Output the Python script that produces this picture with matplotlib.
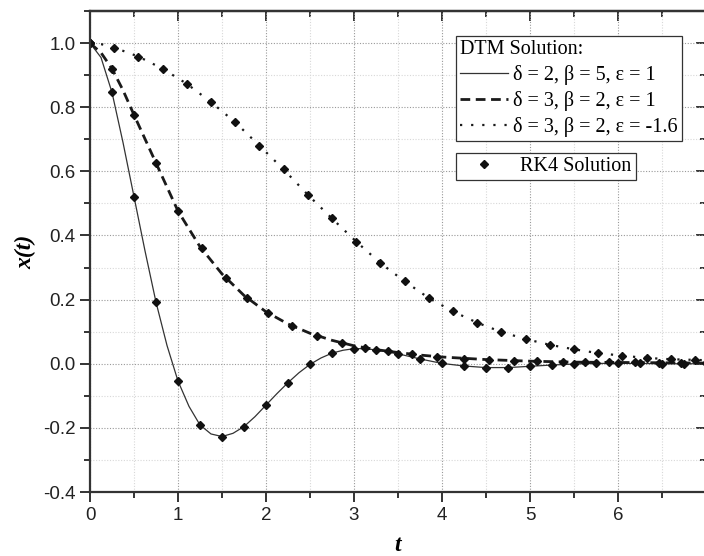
import numpy as np
import matplotlib
matplotlib.use('Agg')
import matplotlib.pyplot as plt
from matplotlib.ticker import MultipleLocator
from matplotlib.lines import Line2D

# DTM solution curves
t_dtm1 = [0, 0.125, 0.25, 0.375, 0.5, 0.625, 0.75, 0.875, 1.0, 1.125, 1.25, 1.375, 1.5, 1.625,
          1.75, 1.875, 2.0, 2.125, 2.25, 2.375, 2.5, 2.625, 2.75, 2.875, 3.0, 3.125, 3.25, 3.5,
          3.75, 4.0, 4.25, 4.5, 4.75, 5.0, 5.25, 5.5, 5.75, 6.0, 6.25, 6.5, 6.75, 7.0]
x_dtm1 = [1.0, 0.955, 0.846, 0.69, 0.521, 0.352, 0.192, 0.057, -0.054, -0.133, -0.191, -0.219, -0.227, -0.217,
          -0.196, -0.165, -0.129, -0.093, -0.059, -0.028, -0.002, 0.018, 0.033, 0.042, 0.047, 0.047, 0.043, 0.031,
          0.015, 0.001, -0.007, -0.012, -0.012, -0.008, -0.004, -0.001, 0.001, 0.001, 0.001, 0.0, 0.0, 0.0]

t_dtm2 = [0, 0.125, 0.25, 0.375, 0.5, 0.75, 1.0, 1.25, 1.5, 1.75, 2.0, 2.25, 2.5, 2.75, 3.0, 3.25,
          3.5, 3.75, 4.0, 4.5, 5.0, 5.5, 6.0, 6.5, 7.0]
x_dtm2 = [1.0, 0.97, 0.92, 0.853, 0.776, 0.626, 0.476, 0.365, 0.28, 0.213, 0.162, 0.124, 0.095, 0.073, 0.056, 0.044,
          0.035, 0.027, 0.021, 0.013, 0.008, 0.005, 0.004, 0.003, 0.002]

t_dtm3 = [0, 0.1375, 0.275, 0.55, 0.825, 1.1, 1.375, 1.65, 1.925, 2.2, 2.475, 2.75, 3.025, 3.3, 3.575,
          3.85, 4.125, 4.4, 4.675, 4.95, 5.225, 5.5, 5.775, 6.05, 6.325, 6.6, 6.875, 7.0]
x_dtm3 = [1.0, 0.996, 0.986, 0.958, 0.92, 0.873, 0.816, 0.753, 0.68, 0.606, 0.527, 0.453, 0.381, 0.314, 0.257,
          0.205, 0.163, 0.128, 0.099, 0.077, 0.059, 0.045, 0.033, 0.025, 0.018, 0.014, 0.012, 0.011]

# RK4 points
t_rk1 = [0, 0.25, 0.5, 0.75, 1.0, 1.25, 1.5, 1.75, 2.0, 2.25, 2.5, 2.75, 3.0, 3.25, 3.5, 3.75,
         4.0, 4.25, 4.5, 4.75, 5.0, 5.25, 5.5, 5.75, 6.0, 6.25, 6.5, 6.75]
x_rk1 = [1.0, 0.846, 0.521, 0.192, -0.054, -0.191, -0.227, -0.196, -0.129, -0.059, -0.002, 0.033, 0.047, 0.043,
         0.031, 0.015, 0.001, -0.007, -0.012, -0.012, -0.008, -0.004, -0.001, 0.001, 0.001, 0.001, 0.0, 0.0]

t_rk2 = [0, 0.25, 0.5, 0.75, 1.0, 1.27, 1.54, 1.78, 2.02, 2.3, 2.58, 2.86, 3.12, 3.39, 3.66, 3.94,
         4.25, 4.53, 4.82, 5.08, 5.37, 5.63, 5.9, 6.19, 6.47, 6.72, 7.0]
x_rk2 = [1.0, 0.92, 0.776, 0.626, 0.476, 0.36, 0.267, 0.206, 0.158, 0.118, 0.087, 0.066, 0.05, 0.04, 0.029, 0.02,
         0.016, 0.011, 0.009, 0.007, 0.005, 0.005, 0.004, 0.004, 0.003, 0.003, 0.002]

t_rk3 = [0, 0.275, 0.55, 0.825, 1.1, 1.375, 1.65, 1.925, 2.2, 2.475, 2.75, 3.025, 3.3, 3.575,
         3.85, 4.125, 4.4, 4.675, 4.95, 5.225, 5.5, 5.775, 6.05, 6.325, 6.6, 6.875]
x_rk3 = [1.0, 0.986, 0.958, 0.92, 0.873, 0.816, 0.753, 0.68, 0.606, 0.527, 0.453, 0.381, 0.314, 0.257,
         0.205, 0.163, 0.128, 0.099, 0.077, 0.059, 0.045, 0.033, 0.025, 0.018, 0.014, 0.012]

labels = ['δ = 2, β = 5, ε = 1', 'δ = 3, β = 2, ε = 1', 'δ = 3, β = 2, ε = -1.6']
xticks = [0, 1, 2, 3, 4, 5, 6]

fig = plt.figure(figsize=(7.04, 5.56), dpi=100)
ax = fig.add_axes([90/704, 1-492/556, 616/704, 481/556])

lc = '#1a1a1a'
l1, = ax.plot(t_dtm1, x_dtm1, color='#333333', lw=0.9, ls='-')
l2, = ax.plot(t_dtm2, x_dtm2, color=lc, lw=2.0, ls=(0, (3.5, 2)))
l3, = ax.plot(t_dtm3, x_dtm3, color=lc, lw=1.6, ls=(0, (1, 4)))

mk = dict(ls='none', marker='D', ms=4.5, color='#111111', mec='#111111')
ax.plot(t_rk1, x_rk1, **mk)
ax.plot(t_rk2, x_rk2, **mk)
ax.plot(t_rk3, x_rk3, **mk)

ax.set_xlim(0, 7)
ax.set_ylim(-0.4, 1.1)
ax.set_xticks(xticks)
ax.xaxis.set_minor_locator(MultipleLocator(0.5))
ax.yaxis.set_major_locator(MultipleLocator(0.2))
ax.yaxis.set_minor_locator(MultipleLocator(0.1))
ax.yaxis.set_major_formatter(matplotlib.ticker.FormatStrFormatter('%.1f'))

ax.grid(which='major', ls=(0, (1, 1.5)), color='#999999', lw=0.8)
ax.grid(which='minor', ls=(0, (1, 1.5)), color='#d8d8d8', lw=0.8)
ax.set_axisbelow(True)

for s in ax.spines.values():
    s.set_linewidth(1.6)
    s.set_color('#333333')

ax.tick_params(which='both', direction='out', bottom=True, left=True, top=False, right=False,
               width=1.4, color='#333333', labelsize=13.5, labelcolor='#222222')
ax.tick_params(which='major', length=7)
ax.tick_params(which='minor', length=4)
for lab in ax.get_xticklabels() + ax.get_yticklabels():
    lab.set_family('Liberation Sans')

# inward ticks on top / right
sec_x = ax.secondary_xaxis('top')
sec_x.xaxis.set_major_locator(MultipleLocator(1))
sec_x.xaxis.set_minor_locator(MultipleLocator(0.5))
sec_x.tick_params(which='both', direction='in', width=1.4, color='#333333', labeltop=False)
sec_x.tick_params(which='major', length=7)
sec_x.tick_params(which='minor', length=4)
sec_x.spines['top'].set_linewidth(1.6)
sec_y = ax.secondary_yaxis('right')
sec_y.yaxis.set_major_locator(MultipleLocator(0.2))
sec_y.yaxis.set_minor_locator(MultipleLocator(0.1))
sec_y.tick_params(which='both', direction='in', width=1.4, color='#333333', labelright=False)
sec_y.tick_params(which='major', length=7)
sec_y.tick_params(which='minor', length=4)

ax.set_xlabel('t', family='Liberation Serif', style='italic', weight='bold', fontsize=17, labelpad=8)
ax.set_ylabel('x(t)', family='Liberation Serif', style='italic', weight='bold', fontsize=17, labelpad=5)

leg1 = ax.legend([l1, l2, l3], labels, title='DTM Solution:', loc='upper left',
                 bbox_to_anchor=(0.594, 0.948), prop={'family': 'Liberation Serif', 'size': 14.5},
                 title_fontproperties={'family': 'Liberation Serif', 'size': 14.5},
                 fancybox=False, framealpha=1, edgecolor='#333333', borderpad=0.2,
                 labelspacing=0.3, handlelength=2.4, handletextpad=0.25, borderaxespad=0,
                 alignment='left')
leg1.get_frame().set_linewidth(0.9)
ax.add_artist(leg1)

rk_handle = Line2D([], [], **mk)
leg2 = ax.legend([rk_handle], ['RK4 Solution'], loc='upper left', bbox_to_anchor=(0.594, 0.705),
                 prop={'family': 'Liberation Serif', 'size': 14.5}, fancybox=False, framealpha=1,
                 edgecolor='#333333', borderpad=0.2, handlelength=2.4, handletextpad=0.6,
                 borderaxespad=0)
leg2.get_frame().set_linewidth(0.9)

fig.savefig('out.png', dpi=100)
